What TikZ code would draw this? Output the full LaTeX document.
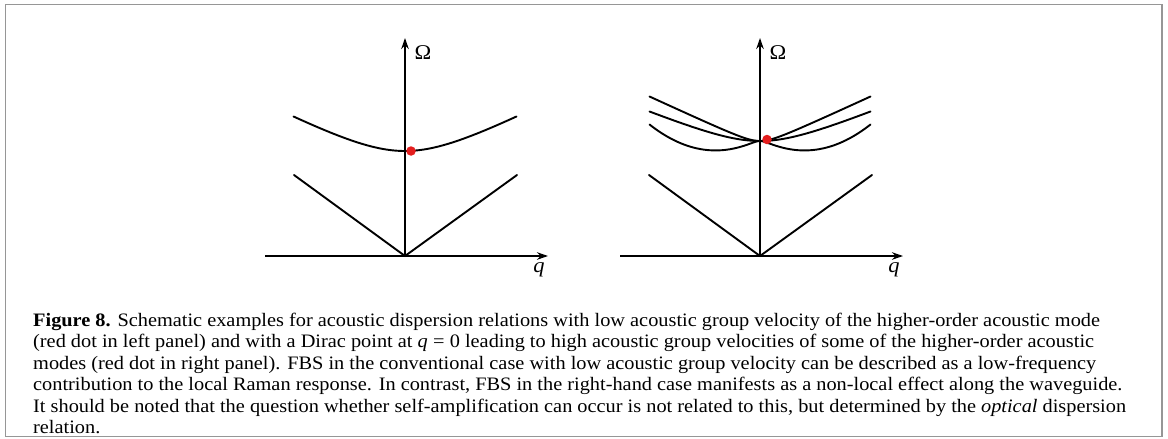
\documentclass[tikz,border=0pt]{standalone}
\usepackage{fontspec}
\setmainfont{Liberation Serif}[FakeStretch=1.07]
\usetikzlibrary{arrows.meta}
\definecolor{framegray}{RGB}{150,150,150}
\definecolor{dotred}{RGB}{228,30,30}
\tikzset{
  axisline/.style={line width=2pt, -{Stealth[length=11pt,width=7.5pt]}},
  curveline/.style={line width=1.9pt, line cap=round},
  reddot/.style={circle, fill=dotred, inner sep=0pt, minimum size=9.5pt},
  axlabel/.style={inner sep=0pt, font=\fontsize{21}{23}\selectfont},
  captext/.style={inner sep=0pt, align=left, anchor=north west, font=\fontsize{19}{21.4}\selectfont}
}
\begin{document}
\begin{tikzpicture}[x=1pt,y=-1pt]
\useasboundingbox (0,0) rectangle (1168,439);
\draw[framegray, line width=1.8pt] (5.5,4.5) rectangle (1162,436.5);

% left panel
\coordinate (o1) at (405,256);
\coordinate (x1l) at (265,256);
\coordinate (x1r) at (548,256);
\coordinate (y1t) at (405,38);
\coordinate (v1l) at (294,175);
\coordinate (v1r) at (517,175);
\draw[curveline] (v1l) -- (o1) -- (v1r);
\draw[curveline] plot[domain=-111.5:111.5, samples=80, smooth] ({405+\x},{151-5.18*(sqrt((\x/10)^2+36)-6)});
\draw[axisline] (x1l) -- (x1r);
\draw[axisline] (o1) -- (y1t);
\node[axlabel] (om1) at (423,53) {Ω};
\node[axlabel] (q1) at (539,270) {\textit{q}};
\node[reddot] (d1) at (411,151) {};

% right panel
\coordinate (o2) at (760,256);
\coordinate (x2l) at (620,256);
\coordinate (x2r) at (903,256);
\coordinate (y2t) at (760,38);
\coordinate (v2l) at (649,175);
\coordinate (v2r) at (872,175);
\draw[curveline] (v2l) -- (o2) -- (v2r);
\draw[curveline] plot[domain=-110.5:110.5, samples=80, smooth] ({760+\x},{141-4.61*(sqrt((\x/10)^2+2.25)-1.5)});
\draw[curveline] plot[domain=-110.5:110.5, samples=80, smooth] ({760+\x},{141-4.14*(sqrt((\x/10)^2+25)-5)});
\draw[curveline] plot[domain=-110.5:110.5, samples=100, smooth] ({760+\x},{141-(0.598*(\x/10)^2-5.35*(sqrt((\x/10)^2+0.25)-0.5))});
\draw[axisline] (x2l) -- (x2r);
\draw[axisline] (o2) -- (y2t);
\node[axlabel] (om2) at (778,53) {Ω};
\node[axlabel] (q2) at (894,270) {\textit{q}};
\node[reddot] (d2) at (767,139.5) {};

% caption
\node[captext] (cap) at (33,313) {\textbf{Figure 8.} Schematic examples for acoustic dispersion relations with low acoustic group velocity of the higher-order acoustic mode\\
(red dot in left panel) and with a Dirac point at \textit{q}\;=\;0 leading to high acoustic group velocities of some of the higher-order acoustic\\
modes (red dot in right panel). FBS in the conventional case with low acoustic group velocity can be described as a low-frequency\\
contribution to the local Raman response. In contrast, FBS in the right-hand case manifests as a non-local effect along the waveguide.\\
It should be noted that the question whether self-amplification can occur is not related to this, but determined by the \textit{optical} dispersion\\
relation.};
\end{tikzpicture}
\end{document}
